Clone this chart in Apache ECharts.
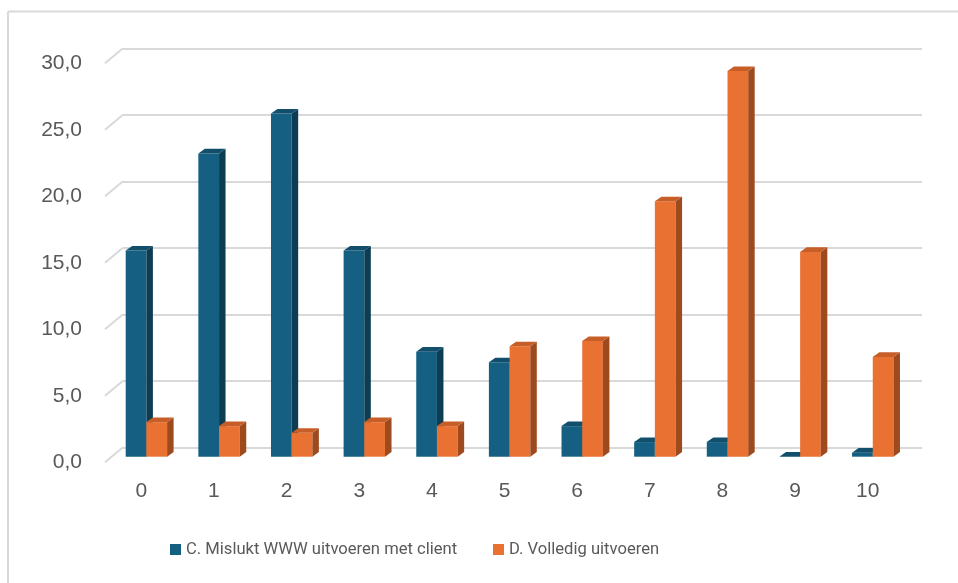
<!DOCTYPE html>
<html>
<head>
<meta charset="utf-8">
<script src="https://cdn.jsdelivr.net/npm/echarts@6/dist/echarts.min.js"></script>
<style>
  html, body { margin: 0; padding: 0; background: #ffffff; }
  #chart { width: 958px; height: 583px; }
</style>
</head>
<body>
<div id="chart"></div>
<script>
// Categories along the horizontal axis
const categories = ['0', '1', '2', '3', '4', '5', '6', '7', '8', '9', '10'];
// Series values (percentages)
const seriesNames = ['C. Mislukt WWW uitvoeren met client', 'D. Volledig uitvoeren'];
const mislukt = [15.5, 22.8, 25.8, 15.5, 7.9, 7.1, 2.3, 1.1, 1.1, 0.0, 0.3];
const volledig = [2.6, 2.3, 1.8, 2.6, 2.3, 8.3, 8.7, 19.2, 29.0, 15.4, 7.5];
// Value axis ticks
const yTicks = [0, 5, 10, 15, 20, 25, 30];

const palette = {
  blue:   { front: '#156082', side: '#0d3d53', top: '#114f6c' },
  orange: { front: '#e97132', side: '#9e4a1f', top: '#c75d27' }
};

// Depth of the floor/back wall and of each 3D column
const WALL_DX = 18, WALL_DY = -15;
const PLANE_SHIFT_Y = -5.6;
const COL_DX = 6.5, COL_DY = -4.6;

function columnRenderer(colors, side) {
  return function (params, api) {
    const i = api.value(0);
    const v = api.value(1);
    const top = api.coord([i, v]);
    const base = api.coord([i, 0]);
    const band = api.size([1, 0])[0];
    const w = band * 0.285;
    const split = top[0] + band * 0.07;
    const x0 = side === 'left' ? split - w : split;
    const x1 = x0 + w;
    const yT = top[1] + PLANE_SHIFT_Y;
    const yB = base[1] + PLANE_SHIFT_Y;
    return {
      type: 'group',
      children: [
        { type: 'rect', shape: { x: x0, y: yT, width: w, height: yB - yT },
          style: { fill: colors.front } },
        { type: 'polygon', shape: { points: [[x1, yT], [x1 + COL_DX, yT + COL_DY], [x1 + COL_DX, yB + COL_DY], [x1, yB]] },
          style: { fill: colors.side } },
        { type: 'polygon', shape: { points: [[x0, yT], [x0 + COL_DX, yT + COL_DY], [x1 + COL_DX, yT + COL_DY], [x1, yT]] },
          style: { fill: colors.top } }
      ]
    };
  };
}

const chart = echarts.init(document.getElementById('chart'), null, { renderer: 'canvas' });

const labelFont = "'Liberation Sans', Arial, sans-serif";
const legendText = { color: '#595959', fontSize: 16.6, fontFamily: "Roboto, sans-serif" };

function legendAt(left, idx, color) {
  return {
    left: left, top: 541, padding: 0,
    itemWidth: 11, itemHeight: 11, itemGap: 0,
    icon: 'rect',
    textStyle: legendText,
    data: [{ name: seriesNames[idx], itemStyle: { color: color } }]
  };
}

chart.setOption({
  animation: false,
  backgroundColor: '#ffffff',
  graphic: [
    { type: 'line', shape: { x1: 8, y1: 11.5, x2: 958, y2: 11.5 }, style: { stroke: '#d9d9d9', lineWidth: 2 } },
    { type: 'line', shape: { x1: 8, y1: 11.5, x2: 8, y2: 583 }, style: { stroke: '#d9d9d9', lineWidth: 2 } }
  ],
  grid: [
    // front plane: carries labels and columns
    { left: 105, top: 63.3, width: 799, height: 399 },
    // back wall: carries gridlines
    { left: 105 + WALL_DX, top: 63.3 + WALL_DY, width: 799, height: 399 }
  ],
  legend: [
    legendAt(170, 0, palette.blue.front),
    legendAt(493, 1, palette.orange.front)
  ],
  xAxis: [
    {
      type: 'category', gridIndex: 0, data: categories,
      axisLine: { show: false }, axisTick: { show: false },
      axisLabel: { color: '#595959', fontSize: 21, fontFamily: labelFont, margin: 18 }
    },
    { type: 'category', gridIndex: 1, data: categories, show: false }
  ],
  yAxis: [
    {
      type: 'value', gridIndex: 0, min: 0, max: 30, interval: 5,
      axisLine: { show: false }, axisTick: { show: false }, splitLine: { show: false },
      axisLabel: {
        color: '#595959', fontSize: 21, fontFamily: labelFont, margin: 23,
        formatter: v => v.toFixed(1).replace('.', ',')
      }
    },
    {
      type: 'value', gridIndex: 1, min: 0, max: 30, interval: 5,
      axisLine: { show: false }, axisTick: { show: false }, axisLabel: { show: false },
      splitLine: { lineStyle: { color: '#d9d9d9', width: 2 } }
    }
  ],
  series: [
    {
      // diagonal floor edges joining the back wall gridlines to the front plane
      type: 'custom', xAxisIndex: 1, yAxisIndex: 1, silent: true,
      data: yTicks.map(t => [0, t]),
      renderItem: function (params, api) {
        const p = api.coord([0, api.value(1)]);
        const x = params.coordSys.x;
        return { type: 'line', shape: { x1: x, y1: p[1], x2: x - WALL_DX, y2: p[1] - WALL_DY },
                 style: { stroke: '#d9d9d9', lineWidth: 2 } };
      }
    },
    {
      name: seriesNames[0], type: 'custom', xAxisIndex: 0, yAxisIndex: 0,
      itemStyle: { color: palette.blue.front },
      data: mislukt.map((v, i) => [i, v]),
      renderItem: columnRenderer(palette.blue, 'left')
    },
    {
      name: seriesNames[1], type: 'custom', xAxisIndex: 0, yAxisIndex: 0,
      itemStyle: { color: palette.orange.front },
      data: volledig.map((v, i) => [i, v]),
      renderItem: columnRenderer(palette.orange, 'right')
    }
  ]
});
</script>
</body>
</html>
